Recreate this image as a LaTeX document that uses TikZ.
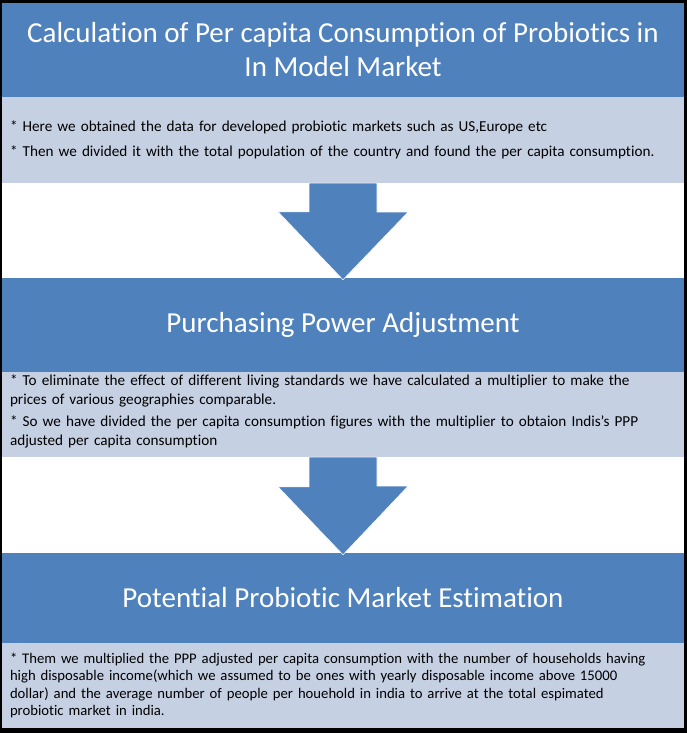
\documentclass[tikz,border=0pt]{standalone}
\usepackage{fontspec}
\setmainfont{Carlito}[Ligatures={TeX,NoCommon}]
\usetikzlibrary{positioning}
\definecolor{hdrblue}{RGB}{79,129,189}
\definecolor{bodyblue}{RGB}{198,208,227}
\begin{document}
\begin{tikzpicture}[x=1pt,y=1pt,
  header/.style={fill=hdrblue,text=white,minimum width=682pt,inner sep=0pt,align=center,
    font=\fontsize{29}{34}\selectfont},
  bodybox/.style={fill=bodyblue,text=black,minimum width=682pt,text width=666pt,inner sep=0pt,align=left,
    font=\fontsize{15.2}{19.5}\selectfont},
  blockarrow/.style={fill=hdrblue,draw=white,line width=0.6pt}]
% frame
\fill[black] (0,0) rectangle (687,733);
\fill[white] (2,5) rectangle (684,730);
% boxes
\node[header,minimum height=94pt] (head1) at (343,683)
  {Calculation of Per capita Consumption of Probiotics in\\In Model Market};
\node[bodybox,minimum height=86pt] (body1) at (343,593)
  {* Here we obtained the data for developed probiotic markets such as US,Europe etc\\[6pt]
   * Then we divided it with the total population of the country and found the per capita consumption.};
\node[header,minimum height=94pt] (head2) at (343,408) {Purchasing Power Adjustment};
\node[bodybox,minimum height=85pt,text depth=69pt] (body2) at (343,318.5)
  {* To eliminate the effect of different living standards we have calculated a multiplier to make the\\
   prices of various geographies comparable.\\[2pt]
   * So we have divided the per capita consumption figures with the multiplier to obtaion Indis's PPP\\
   adjusted per capita consumption};
\node[header,minimum height=90pt] (head3) at (343,135) {Potential Probiotic Market Estimation};
\node[bodybox,minimum height=85pt,font=\fontsize{14.7}{17.3}\selectfont] (body3) at (343,47.5)
  {* Them we multiplied the PPP adjusted per capita consumption with the number of households having\\
   high disposable income(which we assumed to be ones with yearly disposable income above 15000\\
   dollar) and the average number of people per houehold in india to arrive at the total espimated\\
   probiotic market in india.};
% block arrows
\foreach \from/\to in {body1/head2,body2/head3}
  \fill[blockarrow] ([xshift=-34pt]\from.south) -- ([xshift=34pt]\from.south) -- ++(0,-29)
    -- ++(31,0) -- ([yshift=-2pt]\to.north) -- ++(-65,68) -- ++(31,0) -- cycle;
\end{tikzpicture}
\end{document}
